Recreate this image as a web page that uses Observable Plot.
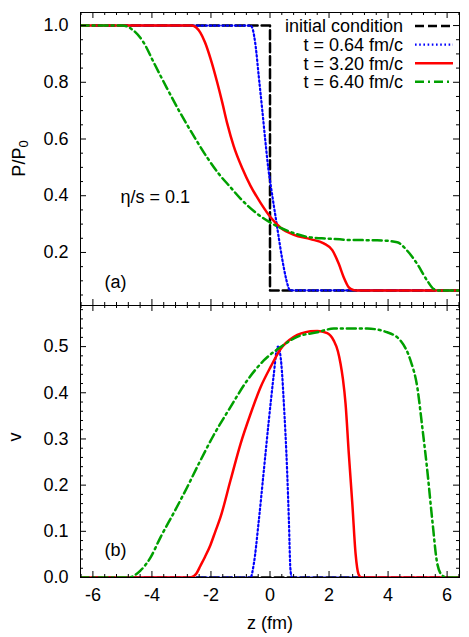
<!DOCTYPE html>
<html><head><meta charset="utf-8">
<script src="https://cdn.jsdelivr.net/npm/d3@7"></script>
<script src="https://cdn.jsdelivr.net/npm/@observablehq/plot@0.6"></script>
<style>
body{margin:0;background:#fff;}
#wrap{position:relative;width:469px;height:637px;font-family:"Liberation Sans",Arial,sans-serif;}
#wrap svg{position:absolute;left:0;}
</style></head><body><div id="wrap"></div>
<script>
// ---------- data ----------
const seriesNames = ["initial condition", "t = 0.64 fm/c", "t = 3.20 fm/c", "t = 6.40 fm/c"];
const xTicks = [-6, -4, -2, 0, 2, 4, 6];
const pTicks = [0.2, 0.4, 0.6, 0.8, 1.0];
const vTicks = [0.0, 0.1, 0.2, 0.3, 0.4, 0.5];

// panel (a): P/P0
const pInitZ = [-6.45, 0, 0, 6.45];
const pInitP = [1, 1, 0.066, 0.066];
const p064Z = [-6.45, -0.66, -0.58, -0.49, -0.38, -0.26, -0.15, -0.05, 0.02, 0.1, 0.19, 0.3, 0.4, 0.47, 0.55, 0.62, 0.68, 6.45];
const p064P = [1, 1, 0.985, 0.93, 0.82, 0.70, 0.585, 0.49, 0.44, 0.385, 0.325, 0.25, 0.185, 0.145, 0.105, 0.078, 0.066, 0.066];
const p320Z = [-6.45, -2.64, -2.5, -2.36, -2.2, -2.02, -1.79, -1.62, -1.45, -1.23, -0.94, -0.66, -0.32, 0.02, 0.36, 0.81, 1.37, 1.82, 2.11, 2.33, 2.5, 2.67, 2.82, 2.95, 6.45];
const p320P = [1, 1, 0.993, 0.975, 0.94, 0.885, 0.80, 0.73, 0.655, 0.575, 0.497, 0.435, 0.375, 0.324, 0.287, 0.262, 0.247, 0.232, 0.208, 0.16, 0.112, 0.077, 0.068, 0.066, 0.066];
const p640Z = [-6.45, -5.0, -4.62, -4.28, -3.94, -3.48, -3.03, -2.58, -2.13, -1.74, -1.34, -1.0, -0.43, 0, 0.58, 1.37, 1.94, 2.73, 3.63, 4.31, 4.65, 4.99, 5.33, 5.55, 5.72, 6.45];
const p640P = [1, 1, 0.982, 0.94, 0.87, 0.777, 0.69, 0.61, 0.535, 0.478, 0.43, 0.39, 0.336, 0.306, 0.277, 0.253, 0.249, 0.244, 0.243, 0.236, 0.206, 0.159, 0.10, 0.071, 0.066, 0.066];

// panel (b): v
const vInitZ = [-6.45, 6.45];
const vInitV = [0, 0];
const v064Z = [-6.45, -0.66, -0.55, -0.38, -0.21, -0.04, 0.13, 0.22, 0.27, 0.33, 0.4, 0.47, 0.58, 0.64, 0.69, 0.74, 6.45];
const v064V = [0, 0, 0.029, 0.123, 0.231, 0.34, 0.441, 0.49, 0.5, 0.49, 0.45, 0.376, 0.231, 0.123, 0.02, 0, 0];
const v320Z = [-6.45, -2.69, -2.5, -2.36, -2.2, -2.02, -1.85, -1.68, -1.34, -1.0, -0.66, -0.32, 0.02, 0.36, 0.81, 1.37, 1.6, 1.94, 2.16, 2.3, 2.39, 2.47, 2.56, 2.67, 2.79, 2.9, 3.0, 3.1, 6.45];
const v320V = [0, 0, 0.008, 0.025, 0.045, 0.07, 0.10, 0.13, 0.21, 0.289, 0.354, 0.412, 0.456, 0.495, 0.521, 0.533, 0.534, 0.529, 0.513, 0.49, 0.463, 0.43, 0.376, 0.268, 0.159, 0.051, 0.007, 0, 0];
const v640Z = [-6.45, -4.8, -4.39, -4.05, -3.71, -3.26, -2.81, -2.36, -1.91, -1.34, -0.77, -0.21, 0.36, 0.92, 1.6, 2.16, 3.29, 3.97, 4.42, 4.76, 4.99, 5.16, 5.33, 5.5, 5.67, 5.84, 6.0, 6.45];
const v640V = [0, 0, 0.015, 0.043, 0.087, 0.14, 0.195, 0.253, 0.308, 0.369, 0.427, 0.47, 0.499, 0.521, 0.531, 0.539, 0.539, 0.531, 0.513, 0.47, 0.412, 0.325, 0.231, 0.123, 0.029, 0.004, 0, 0];

// ---------- styles ----------
const styles = [
  {stroke: "#000000", strokeWidth: 2.5, strokeDasharray: "9,4"},
  {stroke: "#0000ff", strokeWidth: 2.2, strokeDasharray: "1.6,2.6"},
  {stroke: "#ff0000", strokeWidth: 2.5},
  {stroke: "#00a000", strokeWidth: 2.5, strokeDasharray: "9,4,2,4"}
];
const curves = ["linear", "monotone-x", "monotone-x", "monotone-x"];
const FONT = '"Liberation Sans", Arial, sans-serif';
const W = 469, ML = 80, MR = 10;
const FW = W - ML - MR;
const rows = (z, y) => z.map((zz, i) => ({z: zz, y: y[i]}));
const xMinor = d3.range(-16, 17).map(i => +(i * 0.4).toFixed(2)).filter(d => Math.abs(d % 2) > 1e-6);
const pMinor = d3.range(1, 21).map(i => +(i * 0.05).toFixed(2)).filter(d => !pTicks.some(t => Math.abs(t - d) < 1e-6));
const vMinor = d3.range(1, 30).map(i => +(i * 0.02).toFixed(2)).filter(d => !vTicks.some(t => Math.abs(t - d) < 1e-6));

function tickMarks(FH, yMaj, yMin) {
  return [
    Plot.tickX(xTicks, {x: d => d, insetTop: FH - 6, stroke: "black"}),
    Plot.tickX(xTicks, {x: d => d, insetBottom: FH - 6, stroke: "black"}),
    Plot.tickX(xMinor, {x: d => d, insetTop: FH - 3, stroke: "black"}),
    Plot.tickX(xMinor, {x: d => d, insetBottom: FH - 3, stroke: "black"}),
    Plot.tickY(yMaj, {y: d => d, insetRight: FW - 6, stroke: "black"}),
    Plot.tickY(yMaj, {y: d => d, insetLeft: FW - 6, stroke: "black"}),
    Plot.tickY(yMin, {y: d => d, insetRight: FW - 3, stroke: "black"}),
    Plot.tickY(yMin, {y: d => d, insetLeft: FW - 3, stroke: "black"})
  ];
}

const wrap = document.getElementById("wrap");

// ---------- panel (a) ----------
const pSeries = [[pInitZ, pInitP], [p064Z, p064P], [p320Z, p320P], [p640Z, p640P]];
const topH = 305, topMT = 12;
const topPlot = Plot.plot({
  width: W, height: topH, marginTop: topMT, marginBottom: 0, marginLeft: ML, marginRight: MR,
  x: {domain: [-6.42, 6.42], axis: null},
  y: {domain: [0.013, 1.046]},
  style: {fontFamily: FONT, fontSize: "18px", background: "transparent", overflow: "visible", color: "black"},
  marks: [
    ...pSeries.map(([z, p], i) => Plot.line(rows(z, p), {x: "z", y: "y", clip: true, curve: curves[i], ...styles[i]})),
    ...tickMarks(topH - topMT, pTicks, pMinor),
    Plot.frame({stroke: "black", strokeWidth: 1}),
    Plot.axisY(pTicks, {tickSize: 0, tickPadding: 12, tickFormat: d3.format(".1f"), label: null, fontSize: 18}),
    Plot.text(["\u03b7/s = 0.1"], {frameAnchor: "top-left", dx: 40, dy: 185, textAnchor: "start", lineAnchor: "middle", fontSize: 18}),
    Plot.text(["(a)"], {frameAnchor: "bottom-left", dx: 24, dy: -23, textAnchor: "start", lineAnchor: "middle", fontSize: 18})
  ]
});
topPlot.style.top = "0px";
wrap.appendChild(topPlot);

// ---------- panel (b) ----------
const vSeries = [[vInitZ, vInitV], [v064Z, v064V], [v320Z, v320V], [v640Z, v640V]];
const botTop = 305, botH = 637 - 305, botMB = botH - (577 - 305);
const botPlot = Plot.plot({
  width: W, height: botH, marginTop: 0, marginBottom: botMB, marginLeft: ML, marginRight: MR,
  x: {domain: [-6.42, 6.42]},
  y: {domain: [0, 0.589]},
  style: {fontFamily: FONT, fontSize: "18px", background: "transparent", overflow: "visible", color: "black"},
  marks: [
    ...vSeries.map(([z, v], i) => Plot.line(rows(z, v), {x: "z", y: "y", clip: true, curve: curves[i], ...styles[i]})),
    ...tickMarks(577 - 305, vTicks, vMinor),
    Plot.frame({stroke: "black", strokeWidth: 1}),
    Plot.axisY(vTicks, {tickSize: 0, tickPadding: 12, tickFormat: d3.format(".1f"), label: null, fontSize: 18}),
    Plot.axisX(xTicks, {tickSize: 0, tickPadding: 11, tickFormat: d => String(d), label: null, fontSize: 18}),
    Plot.text(["z (fm)"], {frameAnchor: "bottom", dy: 46, lineAnchor: "middle", fontSize: 18}),
    Plot.text(["v"], {frameAnchor: "left", dx: -65, rotate: -90, lineAnchor: "middle", fontSize: 18}),
    Plot.text(["(b)"], {frameAnchor: "bottom-left", dx: 24, dy: -27, textAnchor: "start", lineAnchor: "middle", fontSize: 18})
  ]
});
botPlot.style.top = botTop + "px";
wrap.appendChild(botPlot);

// ---------- overlay: y title with subscript and legend ----------
const ov = d3.select(wrap).append("svg")
  .attr("width", W).attr("height", 637)
  .style("top", "0px").style("pointer-events", "none")
  .style("font-family", FONT).style("font-size", "18px");

const ylab = ov.append("text")
  .attr("transform", "translate(25,158.5) rotate(-90)")
  .attr("text-anchor", "middle").attr("fill", "black");
ylab.append("tspan").text("P/P");
ylab.append("tspan").attr("font-size", "13px").attr("dy", 3).text("0");

const leg = ov.append("g");
seriesNames.forEach((name, i) => {
  const yMid = 26 + 18.6 * i;
  leg.append("text").attr("x", 403).attr("y", yMid + 6.4).attr("text-anchor", "end").attr("fill", "black").text(name);
  const s = styles[i];
  leg.append("line").attr("x1", 415).attr("x2", 453).attr("y1", yMid).attr("y2", yMid)
    .attr("stroke", s.stroke).attr("stroke-width", s.strokeWidth)
    .attr("stroke-dasharray", s.strokeDasharray || null);
});
</script></body></html>
